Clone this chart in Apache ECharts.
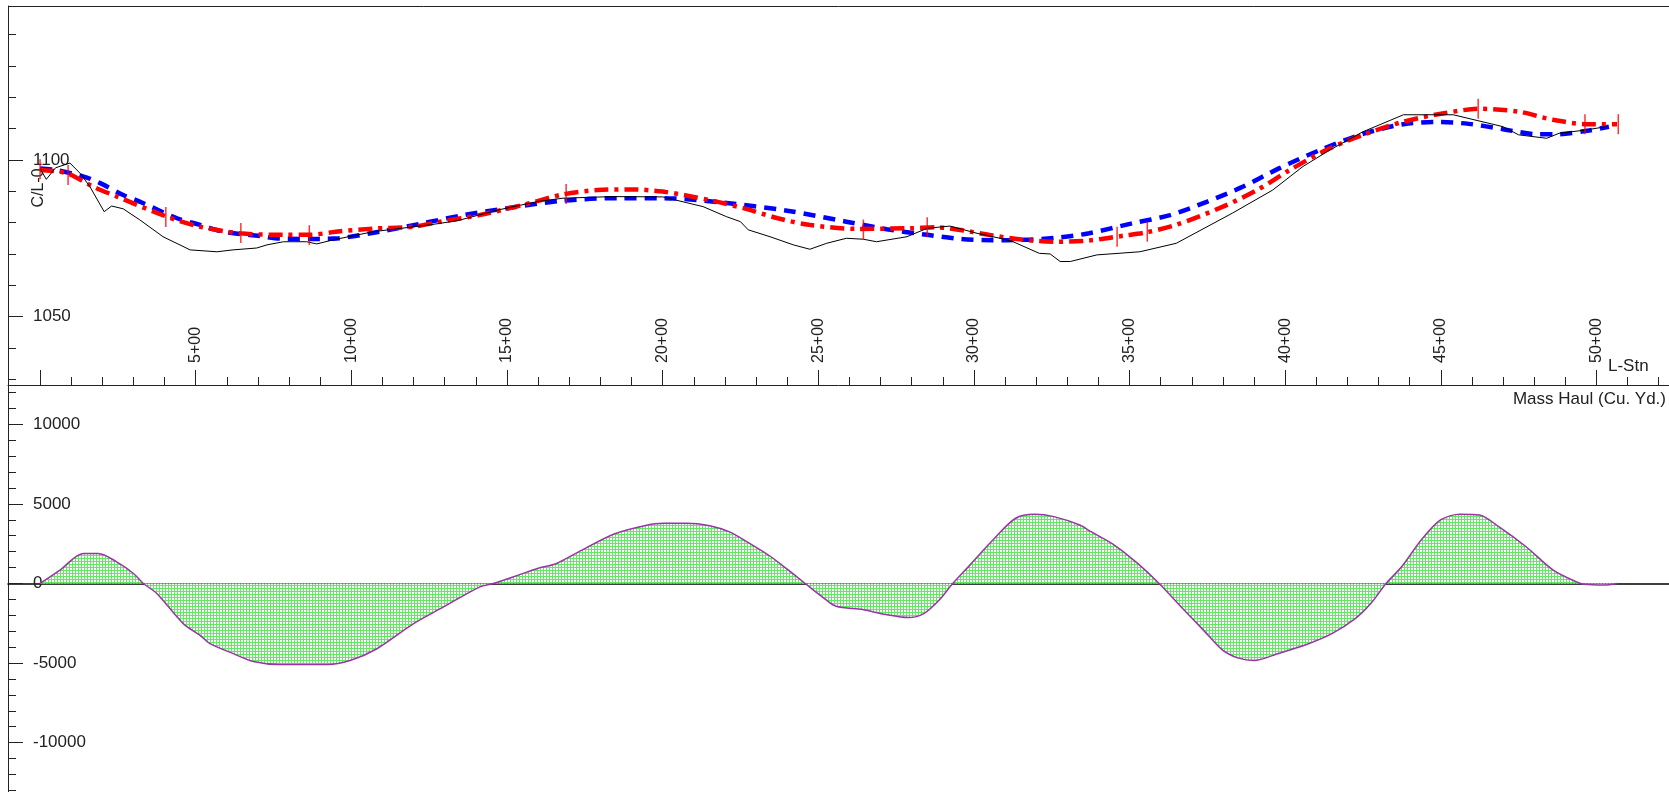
<!DOCTYPE html>
<html><head><meta charset="utf-8">
<script src="https://cdn.jsdelivr.net/npm/echarts@6/dist/echarts.min.js"></script>
<style>html,body{margin:0;padding:0;background:#fff;overflow:hidden}#c{width:1669px;height:792px}</style>
</head><body><div id="c"></div>
<script>
// ---- data ----
const stationLabelValues = [5, 10, 15, 20, 25, 30, 35, 40, 45, 50];
const stationMajorTicks = [0, 5, 10, 15, 20, 25, 30, 35, 40, 45, 50];
const stationMinorTicks = [1, 2, 3, 4, 6, 7, 8, 9, 11, 12, 13, 14, 16, 17, 18, 19, 21, 22, 23, 24, 26, 27, 28, 29, 31, 32, 33, 34, 36, 37, 38, 39, 41, 42, 43, 44, 46, 47, 48, 49, 51, 52];
const elevMajorTicks = [1050, 1100];
const elevMinorTicks = [1030, 1040, 1060, 1070, 1080, 1090, 1110, 1120, 1130, 1140];
const haulMajorTicks = [-10000, -5000, 0, 5000, 10000];
const haulMinorTicks = [-13000, -12000, -11000, -9000, -8000, -7000, -6000, -4000, -3000, -2000, -1000, 1000, 2000, 3000, 4000, 6000, 7000, 8000, 9000, 11000, 12000];

// existing ground (station, elevation)
const groundProfile = [
  [0, 1097.3], [0.2, 1093.8], [0.5, 1097.5], [0.96, 1099.0], [1.29, 1095.7], [1.6, 1091.5],
  [2.06, 1083.5], [2.3, 1085.3], [2.67, 1084.4], [3.2, 1080.9], [3.95, 1075.5], [4.82, 1071.3],
  [5.68, 1070.7], [6.2, 1071.3], [6.96, 1071.9], [7.29, 1072.9], [7.82, 1073.9], [8.56, 1073.9],
  [8.89, 1073.2], [9.42, 1074.5], [10.7, 1077.1], [12.53, 1079.3], [13.4, 1080.6], [14.7, 1084.0],
  [15.97, 1086.7], [16.8, 1087.8], [18.4, 1088.3], [20.0, 1088.2], [21.3, 1085.1], [22.05, 1081.9],
  [22.5, 1080.3], [22.75, 1077.7], [23.45, 1075.5], [24.2, 1072.9], [24.73, 1071.5], [25.27, 1073.4],
  [25.9, 1075.0], [26.45, 1074.7], [26.87, 1073.9], [27.85, 1075.5], [28.5, 1078.2], [29.23, 1078.9],
  [30.1, 1076.6], [30.84, 1075.0], [31.26, 1073.9], [32.1, 1070.2], [32.45, 1070.0], [32.77, 1067.6],
  [33.1, 1067.6], [33.95, 1069.7], [35.33, 1070.7], [36.5, 1073.4], [38.3, 1083.0], [39.6, 1090.4],
  [40.57, 1097.9], [41.44, 1103.2], [42.5, 1109.0], [43.8, 1114.4], [45.4, 1114.4], [47.0, 1110.6],
  [47.5, 1108.0], [48.4, 1106.9], [48.8, 1108.5], [49.7, 1109.6], [50.3, 1110.6]
];
// blue dashed profile
const profileBlue = [
  [0, 1097.3], [0.5, 1096.8], [1.4, 1094.7], [1.93, 1092.6], [2.67, 1088.8], [3.2, 1086.7],
  [4.4, 1081.4], [5.14, 1079.3], [5.9, 1077.1], [7.07, 1075.7], [7.7, 1074.9], [9.0, 1074.8],
  [9.6, 1075.0], [10.9, 1077.1], [12.2, 1079.6], [13.6, 1082.4], [15.0, 1084.6], [16.8, 1087.0],
  [18.6, 1087.8], [20.0, 1087.8], [21.9, 1086.4], [24.0, 1083.8], [25.9, 1080.3], [27.2, 1077.9],
  [28.5, 1076.1], [29.55, 1074.8], [30.6, 1074.4], [31.6, 1074.5], [32.65, 1075.2], [33.7, 1076.6],
  [35.1, 1079.8], [36.3, 1082.4], [37.5, 1086.7], [38.65, 1091.5], [39.8, 1097.3], [41.2, 1103.5],
  [42.5, 1108.3], [43.8, 1111.4], [44.9, 1112.1], [45.9, 1111.5], [47.0, 1109.8], [48.1, 1108.2],
  [48.8, 1108.2], [49.7, 1109.3], [50.4, 1110.6]
];
// red dash-dot profile
const profileRed = [
  [0, 1096.8], [0.87, 1095.7], [1.7, 1091.5], [2.47, 1088.3], [4.07, 1081.9], [5.14, 1078.7],
  [6.42, 1076.6], [7.82, 1076.1], [8.67, 1076.1], [9.5, 1077.1], [10.7, 1078.1], [12.0, 1078.7],
  [12.85, 1080.3], [14.1, 1082.4], [15.5, 1085.6], [16.8, 1089.0], [17.9, 1090.4], [18.95, 1090.6],
  [20.0, 1089.9], [21.5, 1087.2], [22.6, 1084.6], [23.7, 1081.4], [24.7, 1079.3], [26.3, 1078.0],
  [27.95, 1078.2], [28.8, 1078.5], [29.9, 1077.1], [30.6, 1075.9], [31.6, 1074.5], [32.65, 1073.9],
  [33.7, 1074.3], [34.8, 1075.8], [35.55, 1076.9], [36.5, 1079.3], [38.0, 1085.1], [39.1, 1090.4],
  [40.15, 1096.8], [41.33, 1103.2], [42.5, 1108.0], [43.8, 1112.2], [45.1, 1114.9], [46.25, 1116.3],
  [47.5, 1115.4], [48.6, 1112.8], [49.7, 1111.4], [50.66, 1111.4]
];
// PVI markers on the red profile
const pviMarkers = [
  [0, 1097.0], [0.9, 1095.2], [4.04, 1081.8], [6.45, 1076.7], [8.65, 1076.0], [16.9, 1089.1],
  [26.45, 1077.8], [28.5, 1078.5], [34.6, 1075.5], [35.57, 1077.1], [46.2, 1116.3], [49.63, 1111.4], [50.7, 1111.4]
];
// mass haul (station, cu. yd.)
const massHaul = [
  [0, 0], [0.64, 840], [1.39, 1890], [1.87, 1890], [2.46, 1360], [3.0, 630], [3.32, 0], [3.75, -630],
  [4.6, -2520], [5.14, -3260], [5.46, -3780], [6.21, -4410], [6.85, -4900], [7.7, -5090], [9.21, -5090],
  [9.96, -4840], [10.82, -4100], [12.0, -2520], [12.96, -1475], [14.13, -212], [14.56, 0], [15.36, 523],
  [15.98, 945], [16.59, 1260], [17.21, 1890], [18.44, 3108], [19.42, 3633], [20.03, 3783], [20.77, 3783],
  [21.51, 3633], [22.13, 3255], [22.74, 2585], [23.48, 1680], [23.97, 945], [24.58, 0], [25.2, -946],
  [25.57, -1430], [26.43, -1640], [27.17, -1955], [27.9, -2144], [28.39, -1892], [28.88, -1053], [29.32, 0],
  [29.87, 1154], [30.61, 2730], [31.34, 4098], [31.96, 4350], [32.57, 4200], [33.4, 3676], [33.76, 3255],
  [34.51, 2415], [35.26, 1260], [35.95, 0], [36.76, -1683], [37.38, -2945], [38.0, -4206], [38.5, -4690],
  [39.0, -4836], [39.75, -4414], [40.75, -3783], [41.5, -3153], [42.25, -2207], [42.75, -1261], [43.24, 0],
  [43.74, 1047], [44.37, 2730], [44.99, 3991], [45.62, 4350], [46.24, 4306], [46.86, 3569], [47.74, 2308],
  [48.61, 838], [49.36, 100], [49.61, -50], [50.23, -100], [50.67, 0]
];

// ---- chart ----
const FONT = '"Liberation Sans", Arial, sans-serif';
const AX = '#222';
const X_MIN = -1.03, X_MAX = 52.33;

// hatch pattern for mass haul fill
const pat = document.createElement('canvas');
pat.width = 3; pat.height = 3;
const pc = pat.getContext('2d');
pc.fillStyle = '#ffffff'; pc.fillRect(0, 0, 3, 3);
pc.fillStyle = '#62e862'; pc.fillRect(0, 0, 3, 1); pc.fillRect(0, 0, 1, 3);

const H = () => ({ show: false });
const plain = v => String(v);

const chart = echarts.init(document.getElementById('c'), null, { renderer: 'canvas' });
chart.setOption({
  animation: false,
  backgroundColor: '#fff',
  tooltip: { show: false },
  grid: [
    { left: 8, top: 6, right: 0, height: 379 },
    { left: 8, top: 385, right: 0, bottom: 0 }
  ],
  xAxis: [
    { gridIndex: 0, type: 'value', position: 'bottom', min: X_MIN, max: X_MAX,
      axisLine: { show: true, onZero: false, lineStyle: { color: AX, width: 1 } },
      axisTick: { show: true, inside: true, length: 15, customValues: stationMajorTicks, lineStyle: { color: AX } },
      axisLabel: { show: true, inside: true, rotate: 90, margin: 22, customValues: stationLabelValues,
        formatter: v => v + '+00', fontSize: 16, color: AX, fontFamily: FONT },
      splitLine: H(), axisPointer: H() },
    { gridIndex: 0, type: 'value', position: 'bottom', min: X_MIN, max: X_MAX,
      axisLine: { show: false, onZero: false },
      axisTick: { show: true, inside: true, length: 8, customValues: stationMinorTicks, lineStyle: { color: AX } },
      axisLabel: H(), splitLine: H(), axisPointer: H() },
    { gridIndex: 1, type: 'value', position: 'bottom', min: X_MIN, max: X_MAX,
      axisLine: { show: true, onZero: true, lineStyle: { color: '#000', width: 1.5 } },
      axisTick: H(), axisLabel: H(), splitLine: H(), axisPointer: H() }
  ],
  yAxis: [
    { gridIndex: 0, type: 'value', position: 'left', min: 1028.2, max: 1149.1,
      axisLine: { show: true, onZero: false, lineStyle: { color: AX, width: 1 } },
      axisTick: { show: true, inside: true, length: 15, customValues: elevMajorTicks, lineStyle: { color: AX } },
      axisLabel: { show: true, inside: true, margin: 25, customValues: elevMajorTicks, formatter: plain, fontSize: 17, color: AX, fontFamily: FONT },
      splitLine: H(), axisPointer: H() },
    { gridIndex: 0, type: 'value', position: 'left', min: 1028.2, max: 1149.1,
      axisLine: { show: false, onZero: false },
      axisTick: { show: true, inside: true, length: 8, customValues: elevMinorTicks, lineStyle: { color: AX } },
      axisLabel: H(), splitLine: H(), axisPointer: H() },
    { gridIndex: 1, type: 'value', position: 'left', min: -13100, max: 12470,
      axisLine: { show: true, onZero: false, lineStyle: { color: AX, width: 1 } },
      axisTick: { show: true, inside: true, length: 15, customValues: haulMajorTicks, lineStyle: { color: AX } },
      axisLabel: { show: true, inside: true, margin: 25, customValues: haulMajorTicks, formatter: plain, fontSize: 17, color: AX, fontFamily: FONT },
      splitLine: H(), axisPointer: H() },
    { gridIndex: 1, type: 'value', position: 'left', min: -13100, max: 12470,
      axisLine: { show: false, onZero: false },
      axisTick: { show: true, inside: true, length: 8, customValues: haulMinorTicks, lineStyle: { color: AX } },
      axisLabel: H(), splitLine: H(), axisPointer: H() }
  ],
  series: [
    { name: 'Profile B', type: 'line', xAxisIndex: 0, yAxisIndex: 0, data: profileBlue, showSymbol: false, smooth: 0.3,
      lineStyle: { color: '#0000ff', width: 4.5, type: [12, 8], cap: 'butt' }, z: 2 },
    { name: 'Profile A', type: 'line', xAxisIndex: 0, yAxisIndex: 0, data: profileRed, showSymbol: false, smooth: 0.3,
      lineStyle: { color: '#ff0000', width: 4.5, type: [14, 6, 4, 6], cap: 'butt' }, z: 3 },
    { name: 'Ground', type: 'line', xAxisIndex: 0, yAxisIndex: 0, data: groundProfile, showSymbol: false,
      lineStyle: { color: '#000', width: 1 }, z: 4 },
    { name: 'PVI', type: 'scatter', xAxisIndex: 0, yAxisIndex: 0, data: pviMarkers, symbol: 'rect', symbolSize: [1.5, 20],
      itemStyle: { color: '#ff0000' }, z: 5 },
    { name: 'Mass Haul', type: 'line', xAxisIndex: 2, yAxisIndex: 2, data: massHaul, showSymbol: false, smooth: 0.3,
      lineStyle: { color: '#9a32a8', width: 1.5 },
      areaStyle: { color: { image: pat, repeat: 'repeat' }, opacity: 1 }, z: 2 }
  ],
  graphic: [
    { type: 'line', shape: { x1: 8, y1: 6.5, x2: 1669, y2: 6.5 }, style: { stroke: AX, lineWidth: 1 }, silent: true },
    { type: 'text', x: 39, y: 188, rotation: Math.PI / 2,
      style: { text: 'C/L-0', font: '16px ' + FONT, fill: AX, align: 'center', verticalAlign: 'middle' } },
    { type: 'text', x: 1608, y: 366,
      style: { text: 'L-Stn', font: '17px ' + FONT, fill: AX, align: 'left', verticalAlign: 'middle' } },
    { type: 'text', x: 1666, y: 399,
      style: { text: 'Mass Haul (Cu. Yd.)', font: '17px ' + FONT, fill: AX, align: 'right', verticalAlign: 'middle' } }
  ]
});
</script>
</body></html>
